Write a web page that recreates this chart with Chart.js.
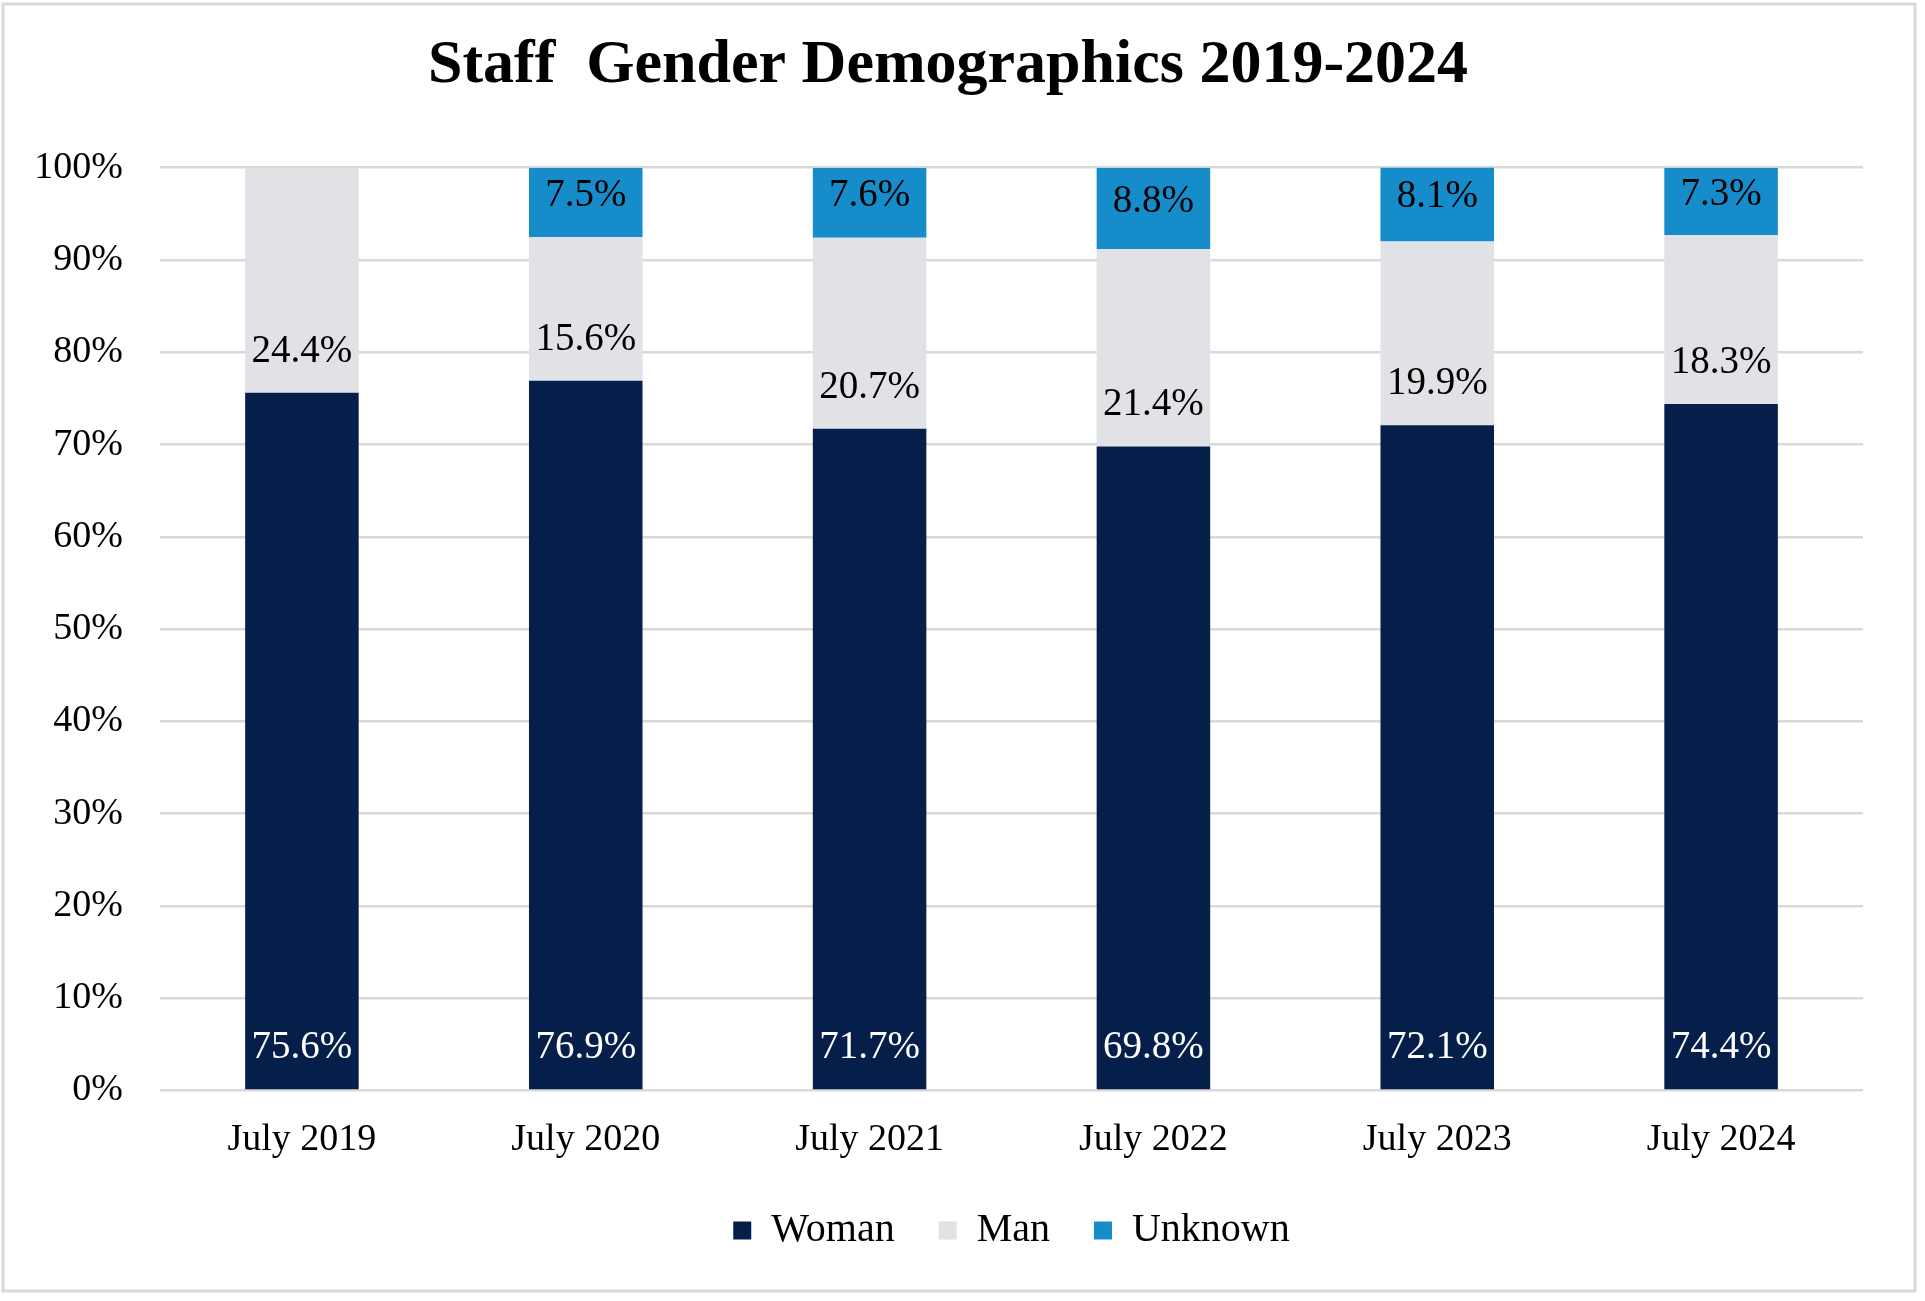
<!DOCTYPE html>
<html>
<head>
<meta charset="utf-8">
<title>Staff Gender Demographics 2019-2024</title>
<script src="https://cdn.jsdelivr.net/npm/chart.js@4.4.1/dist/chart.umd.min.js"></script>
<style>
  html, body { margin: 0; padding: 0; background: #ffffff; }
  #wrap { width: 1925px; height: 1301px; }
</style>
</head>
<body>
<div id="wrap"><canvas id="c" width="1925" height="1301"></canvas></div>
<script>
const categories = ["July 2019", "July 2020", "July 2021", "July 2022", "July 2023", "July 2024"];
const seriesNames = ["Woman", "Man", "Unknown"];
const womanValues = [75.6, 76.9, 71.7, 69.8, 72.1, 74.4];
const manValues = [24.4, 15.6, 20.7, 21.4, 19.9, 18.3];
const unknownValues = [0, 7.5, 7.6, 8.8, 8.1, 7.3];
const yTickValues = [0, 10, 20, 30, 40, 50, 60, 70, 80, 90, 100];
const titleText = "Staff  Gender Demographics 2019-2024";

const FONT = "'Liberation Serif', 'Times New Roman', serif";
const colors = { Woman: "#061F4A", Man: "#E1E2E6", Unknown: "#168CCB" };

const frame = {
  id: "frame",
  beforeDraw(chart) {
    const ctx = chart.ctx;
    ctx.save();
    ctx.fillStyle = "#ffffff";
    ctx.fillRect(0, 0, chart.width, chart.height);
    ctx.strokeStyle = "#d9d9d9";
    ctx.lineWidth = 3;
    ctx.strokeRect(3, 4, chart.width - 13, chart.height - 14);
    ctx.restore();
  }
};

const valueLabels = {
  id: "valueLabels",
  afterDatasetsDraw(chart) {
    const ctx = chart.ctx;
    ctx.save();
    ctx.font = "39px " + FONT;
    ctx.textAlign = "center";
    ctx.textBaseline = "middle";
    chart.data.datasets.forEach((ds, di) => {
      const meta = chart.getDatasetMeta(di);
      meta.data.forEach((el, i) => {
        const v = ds.data[i];
        if (!v) return;
        let y;
        if (ds.label === "Unknown") {
          y = (el.y + el.base) / 2 - 7;
        } else {
          y = el.base - 41.5;
        }
        ctx.fillStyle = ds.label === "Woman" ? "#ffffff" : "#000000";
        ctx.fillText(v.toFixed(1) + "%", el.x, y);
      });
    });
    ctx.restore();
  }
};

const seriesData = [womanValues, manValues, unknownValues];

new Chart(document.getElementById("c"), {
  type: "bar",
  data: {
    labels: categories,
    datasets: seriesNames.map((name, k) => ({
      label: name,
      data: seriesData[k],
      backgroundColor: colors[name],
      borderWidth: 0,
      barPercentage: 0.4,
      categoryPercentage: 1.0
    }))
  },
  options: {
    responsive: false,
    devicePixelRatio: 1,
    animation: false,
    layout: { padding: { left: 33, right: 62, top: 0, bottom: 40.5 } },
    plugins: {
      title: {
        display: true,
        text: titleText,
        color: "#000000",
        font: { family: FONT, size: 62, weight: "bold" },
        padding: { top: 29.2, bottom: 64.1 }
      },
      legend: {
        position: "bottom",
        fullSize: false,
        labels: {
          color: "#000000",
          font: { family: FONT, size: 40 },
          boxWidth: 18,
          boxHeight: 18,
          padding: 44
        }
      },
      tooltip: { enabled: false }
    },
    scales: {
      x: {
        stacked: true,
        afterFit(scale) { scale.height = 76; },
        grid: { display: false, drawTicks: false },
        border: { display: false },
        ticks: { color: "#000000", font: { family: FONT, size: 38 }, padding: 27, maxRotation: 0 }
      },
      y: {
        stacked: true,
        min: 0,
        max: 100,
        afterFit(scale) { scale.width = 127; },
        afterBuildTicks(scale) { scale.ticks = yTickValues.map(v => ({ value: v })); },
        grid: { color: "#d9d9d9", lineWidth: 2.5, drawTicks: false },
        border: { display: false },
        ticks: {
          color: "#000000",
          font: { family: FONT, size: 38 },
          padding: 37,
          callback: v => v + "%"
        }
      }
    }
  },
  plugins: [frame, valueLabels]
});
</script>
</body>
</html>
